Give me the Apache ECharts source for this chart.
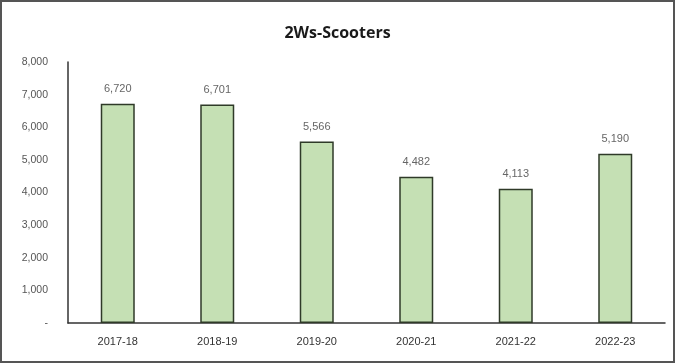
<!DOCTYPE html>
<html><head><meta charset="utf-8">
<script src="https://cdn.jsdelivr.net/npm/echarts@6/dist/echarts.min.js"></script>
<style>html,body{margin:0;padding:0;background:#fff}#c{width:675px;height:363px;box-sizing:border-box;border:2px solid #555}</style>
</head><body><div id="c"></div>
<script>
var categories = ['2017-18','2018-19','2019-20','2020-21','2021-22','2022-23'];
var values = [6720, 6701, 5566, 4482, 4113, 5190];
var title = '2Ws-Scooters';
var chart = echarts.init(document.getElementById('c'));
chart.setOption({
  animation: false,
  title: {text: title, left: 'center', top: 18, textStyle: {fontFamily: 'Open Sans', fontSize: 16, fontWeight: 'bold', color: '#1a1a1a'}},
  grid: {left: 66, right: 8, top: 60, bottom: 38},
  xAxis: {type: 'category', data: categories,
    axisLine: {lineStyle: {color: '#333', width: 1.5}}, axisTick: {show: false},
    axisLabel: {color: '#333', fontFamily: 'Liberation Sans Narrow, Liberation Sans', fontSize: 11, margin: 13}},
  yAxis: {type: 'value', min: 0, max: 8000, interval: 1000,
    axisLine: {show: true, lineStyle: {color: '#333', width: 1.5}}, axisTick: {show: false}, splitLine: {show: false},
    axisLabel: {color: '#555', fontFamily: 'Liberation Sans Narrow, Liberation Sans', fontSize: 10.5, margin: 20,
      formatter: function(v){return v === 0 ? '-' : v.toLocaleString('en-US');}}},
  series: [{type: 'bar', data: values, barWidth: 34,
    itemStyle: {color: '#c5e0b4', borderColor: '#2f3a28', borderWidth: 1.5},
    label: {show: true, position: 'top', distance: 9, color: '#666', fontFamily: 'Liberation Sans', fontSize: 11,
      formatter: function(p){return p.value.toLocaleString('en-US');}}}]
});
</script></body></html>
